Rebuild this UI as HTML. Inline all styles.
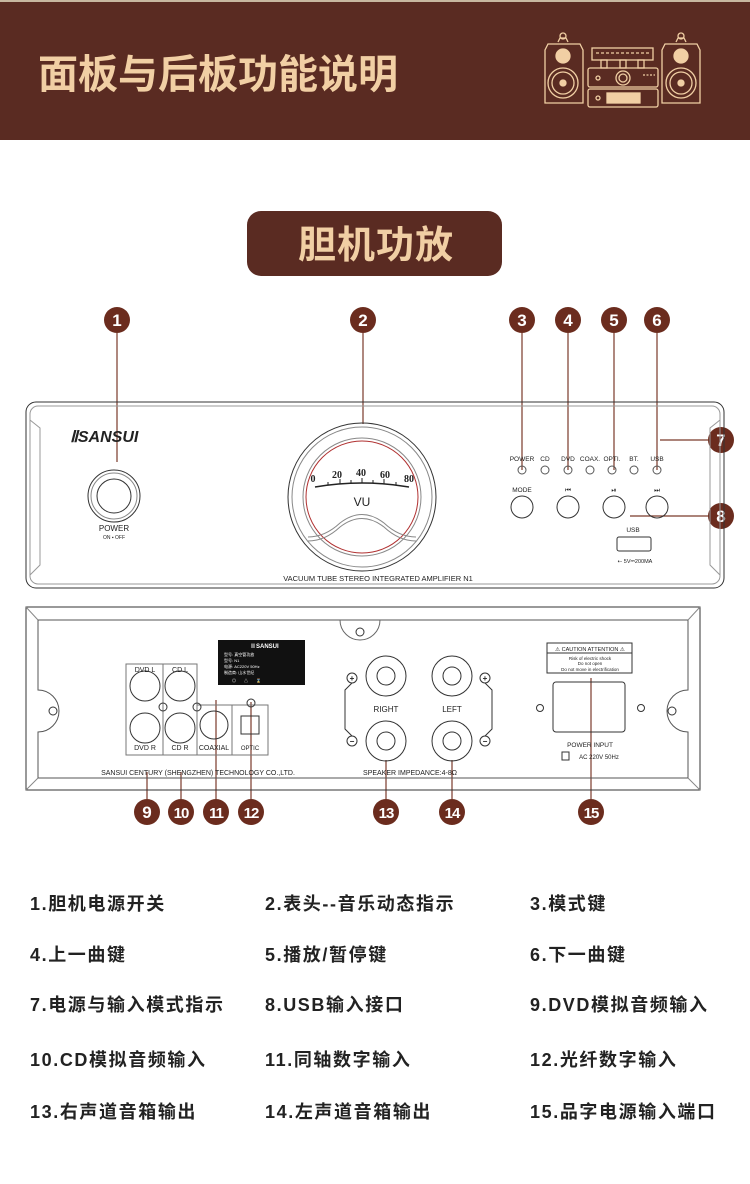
<!DOCTYPE html>
<html><head><meta charset="utf-8"><style>
html,body{margin:0;padding:0;background:#fff}
svg{display:block}
.cj{font-family:"Liberation Sans","Noto Sans CJK SC",sans-serif}
</style></head><body>
<svg width="750" height="1184" viewBox="0 0 750 1184" xmlns="http://www.w3.org/2000/svg" class="cj">
<rect x="0" y="0" width="750" height="1184" fill="#fff"/>
<!-- header -->
<rect x="0" y="0" width="750" height="140" fill="#5a2b22"/>
<rect x="0" y="0" width="750" height="2" fill="#c8b8a0"/>
<text x="38" y="88" font-size="40" font-weight="bold" fill="#f1cfa4" letter-spacing="0">面板与后板功能说明</text>
<g fill="none" stroke="#f1cfa4" stroke-width="1.3">
 <path d="M548 44 H580 L583 50 V103 H545 V50 Z"/>
 <circle cx="563" cy="36" r="3"/><path d="M558 42 L560 38 H566 L568 42"/>
 <circle cx="563" cy="56" r="7" fill="#f1cfa4"/><circle cx="563" cy="83" r="15"/><circle cx="563" cy="83" r="11"/><circle cx="563" cy="83" r="3" fill="#f1cfa4"/>
 <path d="M665 44 H697 L700 50 V103 H662 V50 Z"/>
 <circle cx="681" cy="36" r="3"/><path d="M676 42 L678 38 H684 L686 42"/>
 <circle cx="681" cy="56" r="7" fill="#f1cfa4"/><circle cx="681" cy="83" r="15"/><circle cx="681" cy="83" r="11"/><circle cx="681" cy="83" r="3" fill="#f1cfa4"/>
 <rect x="592" y="48" width="61" height="12"/>
 <line x1="596" y1="53" x2="649" y2="53" stroke-dasharray="3 2"/>
 <rect x="601" y="60" width="6" height="8"/><rect x="620" y="60" width="6" height="8"/><rect x="638" y="60" width="6" height="8"/>
 <rect x="588" y="68" width="70" height="19" rx="2"/>
 <circle cx="623" cy="78" r="7"/><circle cx="623" cy="78" r="4"/><circle cx="598" cy="78" r="2"/>
 <rect x="588" y="89" width="70" height="18" rx="2"/>
 <rect x="607" y="93" width="33" height="10" fill="#f1cfa4"/><circle cx="598" cy="98" r="2"/>
 <line x1="643" y1="75" x2="655" y2="75" stroke-dasharray="2 1.5"/>
</g>
<!-- badge -->
<rect x="247" y="211" width="255" height="65" rx="14" fill="#5a2b22"/>
<text x="376" y="258" font-size="38" font-weight="bold" fill="#f1cfa4" text-anchor="middle" letter-spacing="1">胆机功放</text>

<!-- connector lines -->
<g stroke="#7a3a2a" stroke-width="1.2">
 <line x1="117" y1="333" x2="117" y2="462"/>
 <line x1="363" y1="333" x2="363" y2="424"/>
 <line x1="522" y1="333" x2="522" y2="470"/>
 <line x1="568" y1="333" x2="568" y2="470"/>
 <line x1="614" y1="333" x2="614" y2="470"/>
 <line x1="657" y1="333" x2="657" y2="470"/>
 <line x1="660" y1="440" x2="708" y2="440"/>
 <line x1="630" y1="516" x2="708" y2="516"/>
 <line x1="147" y1="772" x2="147" y2="799"/>
 <line x1="181" y1="772" x2="181" y2="799"/>
 <line x1="216" y1="700" x2="216" y2="799"/>
 <line x1="251" y1="702" x2="251" y2="799"/>
 <line x1="386" y1="760" x2="386" y2="799"/>
 <line x1="452" y1="760" x2="452" y2="799"/>
 <line x1="591" y1="678" x2="591" y2="799"/>
</g>
<!-- number circles -->
<g fill="#6b2c1e">
 <circle cx="117" cy="320" r="13"/><circle cx="363" cy="320" r="13"/><circle cx="522" cy="320" r="13"/>
 <circle cx="568" cy="320" r="13"/><circle cx="614" cy="320" r="13"/><circle cx="657" cy="320" r="13"/>
 <circle cx="721" cy="440" r="13"/><circle cx="721" cy="516" r="13"/>
 <circle cx="147" cy="812" r="13"/><circle cx="181" cy="812" r="13"/><circle cx="216" cy="812" r="13"/>
 <circle cx="251" cy="812" r="13"/><circle cx="386" cy="812" r="13"/><circle cx="452" cy="812" r="13"/><circle cx="591" cy="812" r="13"/>
</g>
<g fill="#fff" font-size="17" font-weight="bold" text-anchor="middle">
 <text x="117" y="326">1</text><text x="363" y="326">2</text><text x="522" y="326">3</text>
 <text x="568" y="326">4</text><text x="614" y="326">5</text><text x="657" y="326">6</text>
 <text x="721" y="446">7</text><text x="721" y="522">8</text>
 <text x="147" y="818">9</text><text x="181" y="818" font-size="15" letter-spacing="-1">10</text><text x="216" y="818" font-size="15" letter-spacing="-1">11</text>
 <text x="251" y="818" font-size="15" letter-spacing="-1">12</text><text x="386" y="818" font-size="15" letter-spacing="-1">13</text><text x="452" y="818" font-size="15" letter-spacing="-1">14</text><text x="591" y="818" font-size="15" letter-spacing="-1">15</text>
</g>

<!-- front panel -->
<g fill="none" stroke="#333" stroke-width="1">
 <rect x="26" y="402" width="698" height="186" rx="10"/>
 <rect x="30" y="406" width="690" height="178" rx="8" stroke="#999"/>
 <path d="M30 420 L40 428 L40 565 L30 575 M720 420 L710 428 L710 565 L720 575" stroke="#999"/>
 <circle cx="114" cy="496" r="26"/><circle cx="114" cy="496" r="23" stroke="#888"/><circle cx="114" cy="496" r="17"/>
 <circle cx="362" cy="497" r="74"/><circle cx="362" cy="497" r="70" stroke="#888"/>
 <circle cx="362" cy="497" r="59" stroke="#888"/>
 <circle cx="362" cy="497" r="56" stroke="#b03030"/>
 <path d="M315 487 Q362 479 409 487" stroke="#222" stroke-width="1.5"/>
 <g stroke="#222"><line x1="328" y1="485" x2="328" y2="482"/><line x1="340" y1="484" x2="340" y2="479"/><line x1="351" y1="483" x2="351" y2="480"/><line x1="362" y1="483" x2="362" y2="478"/><line x1="373" y1="483" x2="373" y2="480"/><line x1="384" y1="484" x2="384" y2="479"/><line x1="396" y1="485" x2="396" y2="482"/></g>
 <path d="M308 537 Q325 537 340 523 Q362 506 384 523 Q399 537 416 537" stroke="#888"/>
 <path d="M308 541 Q325 541 340 527 Q362 510 384 527 Q399 541 416 541" stroke="#888"/>
 <g stroke="#555"><circle cx="522" cy="470" r="4"/><circle cx="545" cy="470" r="4"/><circle cx="568" cy="470" r="4"/><circle cx="590" cy="470" r="4"/><circle cx="612" cy="470" r="4"/><circle cx="634" cy="470" r="4"/><circle cx="657" cy="470" r="4"/></g>
 <circle cx="522" cy="507" r="11"/><circle cx="568" cy="507" r="11"/><circle cx="614" cy="507" r="11"/><circle cx="657" cy="507" r="11"/>
 <rect x="617" y="537" width="34" height="14" rx="2"/>
</g>
<g fill="#222" font-family="Liberation Sans,sans-serif">
 <text x="70" y="442" font-size="16" font-weight="bold" font-style="italic">ⅡSANSUI</text>
 <text x="114" y="531" font-size="8" text-anchor="middle">POWER</text>
 <text x="114" y="539" font-size="5" text-anchor="middle">ON ▪ OFF</text>
 <g font-family="Liberation Serif,serif" font-size="10" font-weight="bold" text-anchor="middle">
  <text x="313" y="482">0</text><text x="337" y="478">20</text><text x="361" y="476">40</text><text x="385" y="478">60</text><text x="409" y="482">80</text></g>
 <text x="362" y="506" font-size="12" text-anchor="middle">VU</text>
 <g font-size="6.5" text-anchor="middle"><text x="522" y="461">POWER</text><text x="545" y="461">CD</text><text x="568" y="461">DVD</text><text x="590" y="461">COAX.</text><text x="612" y="461">OPTI.</text><text x="634" y="461">BT.</text><text x="657" y="461">USB</text>
 <text x="522" y="492">MODE</text><text x="568" y="492">⏮</text><text x="614" y="492">⏯</text><text x="657" y="492">⏭</text>
 <text x="633" y="532">USB</text><text x="635" y="563" font-size="5.5">⇠ 5V⎓200MA</text>
 <text x="378" y="581" font-size="7.5">VACUUM TUBE STEREO INTEGRATED AMPLIFIER N1</text></g>
</g>

<!-- rear panel -->
<g fill="none" stroke="#333" stroke-width="1">
 <path d="M26 607 H700 V790 H26 Z"/>
 <path d="M38 620 H688 V690 A20 20 0 0 0 688 732 V778 H38 V732 A20 20 0 0 0 38 690 Z" stroke="#555"/>
 <path d="M26 607 L38 620 M700 607 L688 620 M26 790 L38 778 M700 790 L688 778" stroke="#888"/>
 <path d="M340 620 A20 20 0 0 0 380 620" stroke="#666"/>
 <circle cx="360" cy="632" r="4"/>
 <circle cx="53" cy="711" r="4"/><circle cx="672" cy="711" r="4"/>
 <rect x="126" y="664" width="37" height="91" stroke="#777"/><rect x="163" y="664" width="34" height="91" stroke="#777"/>
 <rect x="197" y="705" width="35" height="50" stroke="#777"/><rect x="232" y="705" width="36" height="50" stroke="#777"/>
 <circle cx="145" cy="686" r="15"/><circle cx="145" cy="728" r="15"/><circle cx="180" cy="686" r="15"/><circle cx="180" cy="728" r="15"/>
 <circle cx="214" cy="725" r="14"/><rect x="241" y="716" width="18" height="18"/>
 <circle cx="163" cy="707" r="4"/><circle cx="197" cy="707" r="4"/><circle cx="251" cy="703" r="4"/>
 <circle cx="386" cy="676" r="20"/><circle cx="386" cy="676" r="9"/><circle cx="386" cy="741" r="20"/><circle cx="386" cy="741" r="9"/>
 <circle cx="452" cy="676" r="20"/><circle cx="452" cy="676" r="9"/><circle cx="452" cy="741" r="20"/><circle cx="452" cy="741" r="9"/>
 <circle cx="352" cy="678" r="5"/><circle cx="352" cy="741" r="5"/><circle cx="485" cy="678" r="5"/><circle cx="485" cy="741" r="5"/>
 <path d="M352 683 L345 690 V729 L352 736 M485 683 L492 690 V729 L485 736"/>
 <rect x="547" y="643" width="85" height="30"/><line x1="547" y1="653" x2="632" y2="653"/>
 <rect x="553" y="682" width="72" height="50" rx="3"/>
 <circle cx="540" cy="708" r="3.5"/><circle cx="641" cy="708" r="3.5"/>
 <rect x="562" y="752" width="7" height="8"/>
</g>
<rect x="218" y="640" width="87" height="45" fill="#111"/>
<g fill="#fff" font-size="4"><text x="250" y="648" font-size="6" font-weight="bold">ⅡSANSUI</text><text x="224" y="656">型号: 真空管功放</text><text x="224" y="662">型号: N1</text><text x="224" y="668">电源: AC220V 50Hz</text><text x="224" y="674">制造商: 山水世纪</text><text x="232" y="682">◎　　△　　⌛</text></g>
<g fill="#222" font-family="Liberation Sans,sans-serif" text-anchor="middle">
 <g font-size="7"><text x="145" y="672">DVD L</text><text x="180" y="672">CD L</text><text x="145" y="750">DVD R</text><text x="180" y="750">CD R</text><text x="214" y="750">COAXIAL</text><text x="250" y="750" font-size="6">OPTIC</text></g>
 <text x="386" y="712" font-size="8">RIGHT</text><text x="452" y="712" font-size="8">LEFT</text>
 <g font-size="8" font-weight="bold"><text x="352" y="681">+</text><text x="485" y="681">+</text><text x="352" y="744">−</text><text x="485" y="744">−</text></g>
 <text x="198" y="775" font-size="7">SANSUI CENTURY (SHENGZHEN) TECHNOLOGY CO.,LTD.</text>
 <text x="410" y="775" font-size="7">SPEAKER IMPEDANCE:4-8Ω</text>
 <text x="590" y="651" font-size="5.5">⚠ CAUTION ATTENTION ⚠</text>
 <text x="590" y="660" font-size="4.5">Risk of electric shock</text><text x="590" y="665" font-size="4.5">Do not open</text><text x="590" y="671" font-size="4.5">Do not move in electrification</text>
 <text x="590" y="747" font-size="6.5">POWER INPUT</text>
 <text x="599" y="759" font-size="6">AC 220V 50Hz</text>
</g>

<!-- list -->
<g font-size="18" fill="#222" letter-spacing="1.6" font-weight="bold">
 <text x="30" y="910">1.胆机电源开关</text><text x="265" y="910">2.表头--音乐动态指示</text><text x="530" y="910">3.模式键</text>
 <text x="30" y="961">4.上一曲键</text><text x="265" y="961">5.播放/暂停键</text><text x="530" y="961">6.下一曲键</text>
 <text x="30" y="1011">7.电源与输入模式指示</text><text x="265" y="1011">8.USB输入接口</text><text x="530" y="1011">9.DVD模拟音频输入</text>
 <text x="30" y="1066">10.CD模拟音频输入</text><text x="265" y="1066">11.同轴数字输入</text><text x="530" y="1066">12.光纤数字输入</text>
 <text x="30" y="1118">13.右声道音箱输出</text><text x="265" y="1118">14.左声道音箱输出</text><text x="530" y="1118">15.品字电源输入端口</text>
</g>
</svg>
</body></html>
